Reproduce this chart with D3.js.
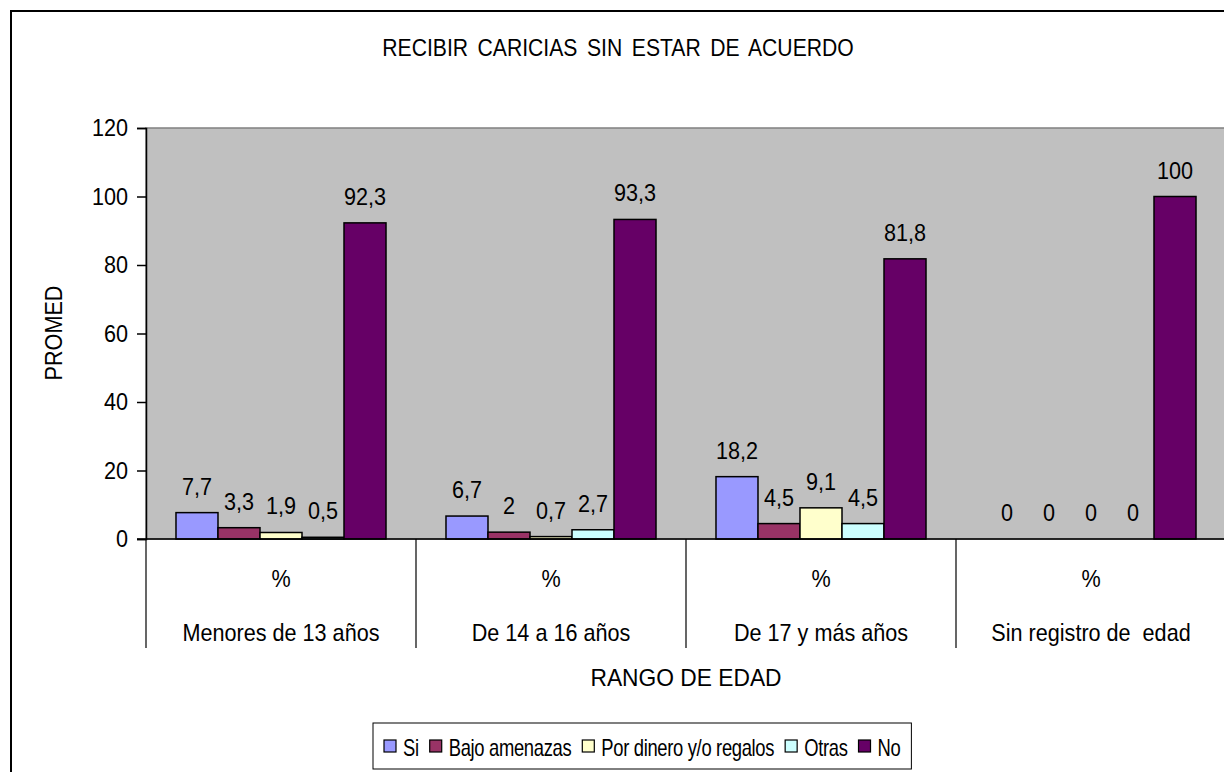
<!DOCTYPE html>
<html>
<head>
  <meta charset="utf-8">
  <script src="https://cdn.jsdelivr.net/npm/d3@7"></script>
  <style type="text/css">
    body { margin: 0; background: #fff; }
    text { font-family: "Liberation Sans", Arial, sans-serif; fill: #000; }
  </style>
</head>
<body>
  <script type="text/javascript">
    const width = 1224;
    const height = 772;

    const categories = ['Menores de 13 años', 'De 14 a 16 años', 'De 17 y más años', 'Sin registro de  edad'];
    const series = ['Si', 'Bajo amenazas', 'Por dinero y/o regalos', 'Otras', 'No'];
    const colors = ['#9999ff', '#993366', '#ffffcc', '#ccffff', '#660066'];
    const si = [7.7, 6.7, 18.2, 0];
    const bajo = [3.3, 2, 4.5, 0];
    const dinero = [1.9, 0.7, 9.1, 0];
    const otras = [0.5, 2.7, 4.5, 0];
    const no = [92.3, 93.3, 81.8, 100];
    const values = [si, bajo, dinero, otras, no];
    const yTicks = [0, 20, 40, 60, 80, 100, 120];

    const fmt = v => String(v).replace('.', ',');
    const SX = 0.9; // glyphs in the source look a little condensed

    const svg = d3.select('body').append('svg')
      .attr('width', width)
      .attr('height', height);

    // condensed text helper
    function label(parent, x, y, str, size, sx, anchor) {
      return parent.append('text')
        .attr('transform', `translate(${x},${y}) scale(${sx},1)`)
        .attr('text-anchor', anchor || 'middle')
        .style('font-size', size + 'px')
        .style('white-space', 'pre')
        .text(str);
    }

    // outer frame
    svg.append('rect')
      .attr('x', 11).attr('y', 11)
      .attr('width', 1300).attr('height', 900)
      .attr('fill', '#fff')
      .attr('stroke', '#000')
      .attr('stroke-width', 2);

    label(svg, 618, 56, 'RECIBIR CARICIAS SIN ESTAR DE ACUERDO', 23, 0.92)
      .style('word-spacing', '4px');

    const x0 = d3.scaleBand().domain(categories).range([146, 1226]);
    const x1 = d3.scaleBand().domain(series)
      .range([0, x0.bandwidth()])
      .paddingInner(0).paddingOuter(0.714);
    const y = d3.scaleLinear().domain([0, 120]).range([539, 128]);

    // plot area
    svg.append('rect')
      .attr('x', 146).attr('y', y(120))
      .attr('width', 1100).attr('height', y(0) - y(120))
      .attr('fill', '#c0c0c0')
      .attr('stroke', '#808080')
      .attr('stroke-width', 1.5);

    // bars
    const groups = svg.selectAll('.grp').data(categories).join('g')
      .attr('class', 'grp')
      .attr('transform', d => `translate(${x0(d)},0)`);

    groups.each(function (cat, ci) {
      const g = d3.select(this);
      const rows = series.map((s, si) => ({ s, si, v: values[si][ci] }));
      g.selectAll('rect').data(rows.filter(r => r.v > 0)).join('rect')
        .attr('x', d => x1(d.s))
        .attr('y', d => y(d.v))
        .attr('width', x1.bandwidth())
        .attr('height', d => y(0) - y(d.v))
        .attr('fill', d => colors[d.si])
        .attr('stroke', '#000')
        .attr('stroke-width', 1.5);
      rows.forEach(d => {
        label(g, x1(d.s) + x1.bandwidth() / 2, y(d.v) - 18, fmt(d.v), 24, SX);
      });
    });

    // y axis
    const yAxis = svg.append('g')
      .attr('transform', 'translate(146,0)')
      .call(d3.axisLeft(y).tickValues(yTicks).tickSize(9).tickPadding(11));
    yAxis.select('.domain').attr('stroke', '#000').attr('stroke-width', 1.5);
    yAxis.selectAll('.tick line').attr('stroke', '#000').attr('stroke-width', 1.5);
    yAxis.selectAll('.tick text')
      .attr('font-family', null).attr('font-size', null)
      .style('font-size', '24px')
      .attr('transform', `scale(${SX},1)`);

    // x axis line
    svg.append('line')
      .attr('x1', 137).attr('x2', width)
      .attr('y1', y(0)).attr('y2', y(0))
      .attr('stroke', '#000').attr('stroke-width', 1.5);

    // category separators
    svg.selectAll('.sep').data(categories).join('line')
      .attr('class', 'sep')
      .attr('x1', d => x0(d)).attr('x2', d => x0(d))
      .attr('y1', y(0)).attr('y2', 648)
      .attr('stroke', '#000').attr('stroke-width', 1.2);

    categories.forEach(c => {
      const cx = x0(c) + x0.bandwidth() / 2;
      label(svg, cx, 587, '%', 24, SX);
      label(svg, cx, 641, c, 24, SX);
    });

    label(svg, 686, 686, 'RANGO DE EDAD', 24, 0.95);

    svg.append('text')
      .attr('transform', `translate(62,333) rotate(-90) scale(${SX},1)`)
      .attr('text-anchor', 'middle')
      .style('font-size', '24px')
      .text('PROMED');

    // legend
    const legend = svg.append('g');
    const box = legend.append('rect')
      .attr('x', 373).attr('y', 723)
      .attr('height', 46)
      .attr('fill', '#fff')
      .attr('stroke', '#000').attr('stroke-width', 1);

    const LS = 0.8;
    let lx = 384;
    series.forEach((s, i) => {
      legend.append('rect')
        .attr('x', lx).attr('y', 740)
        .attr('width', 12).attr('height', 12)
        .attr('fill', colors[i])
        .attr('stroke', '#000').attr('stroke-width', 1.2);
      const t = label(legend, lx + 19, 756, s, 23, LS, 'start')
        .style('letter-spacing', '-0.4px');
      lx += 19 + t.node().getComputedTextLength() * LS + 11;
    });
    box.attr('width', lx - 373);
  </script>
</body>
</html>
